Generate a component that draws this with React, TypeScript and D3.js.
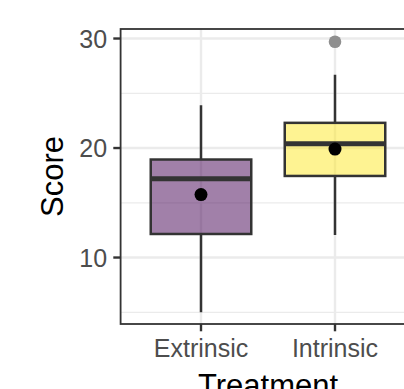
import React from "react";
import * as d3 from "d3";

const treatments = ["Extrinsic", "Intrinsic"];
const lowerWhisker = [5.0, 12.05];
const q1 = [12.15, 17.45];
const medians = [17.2, 20.4];
const q3 = [18.95, 22.3];
const upperWhisker = [23.9, 26.7];
const means = [15.75, 19.9];
const outliers = [[], [29.7]];
const fills = ["#440154", "#FDE725"];
const majorTicks = [10, 20, 30];
const minorTicks = [5, 15, 25];

const W = 404;
const H = 389;
const panel = { left: 120.6, right: 415.4, top: 29, bottom: 324 };

const App = () => {
  const x = d3.scalePoint<string>()
    .domain(treatments)
    .range([panel.left, panel.right])
    .padding(0.6);
  const boxW = x.step() * 0.75;

  const y = d3.scaleLinear()
    .domain([3.93, 30.87])
    .range([panel.bottom, panel.top]);

  const font = "'Liberation Sans', Arial, sans-serif";
  const ink = "#333333";

  return (
    <svg width={W} height={H} style={{ position: "absolute", left: 0, top: 0, background: "white" }}>
      <defs>
        <clipPath id="panel-clip">
          <rect x={panel.left} y={panel.top} width={panel.right - panel.left} height={panel.bottom - panel.top} />
        </clipPath>
      </defs>

      {/* grid */}
      <g clipPath="url(#panel-clip)">
        {minorTicks.map(t => (
          <line key={"mn" + t} x1={panel.left} x2={panel.right} y1={y(t)} y2={y(t)} stroke="#ebebeb" strokeWidth={1.2} />
        ))}
        {majorTicks.map(t => (
          <line key={"mj" + t} x1={panel.left} x2={panel.right} y1={y(t)} y2={y(t)} stroke="#ebebeb" strokeWidth={2.4} />
        ))}
        {treatments.map(t => (
          <line key={"vx" + t} x1={x(t)} x2={x(t)} y1={panel.top} y2={panel.bottom} stroke="#ebebeb" strokeWidth={2.4} />
        ))}

        {/* boxes */}
        {treatments.map((t, i) => {
          const cx = x(t)!;
          return (
            <g key={"box" + t}>
              <line x1={cx} x2={cx} y1={y(q3[i])} y2={y(upperWhisker[i])} stroke={ink} strokeWidth={2.5} />
              <line x1={cx} x2={cx} y1={y(q1[i])} y2={y(lowerWhisker[i])} stroke={ink} strokeWidth={2.5} />
              <rect
                x={cx - boxW / 2}
                y={y(q3[i])}
                width={boxW}
                height={y(q1[i]) - y(q3[i])}
                fill={fills[i]}
                fillOpacity={0.5}
                stroke={ink}
                strokeWidth={2.5}
              />
              <line x1={cx - boxW / 2} x2={cx + boxW / 2} y1={y(medians[i])} y2={y(medians[i])} stroke={ink} strokeWidth={5} />
              {outliers[i].map((o, j) => (
                <circle key={j} cx={cx} cy={y(o)} r={6.3} fill="#8f8f8f" />
              ))}
              <circle cx={cx} cy={y(means[i])} r={6.5} fill="black" />
            </g>
          );
        })}
      </g>

      {/* panel border */}
      <rect x={panel.left} y={panel.top} width={panel.right - panel.left} height={panel.bottom - panel.top} fill="none" stroke={ink} strokeWidth={1.8} />

      {/* y axis */}
      {majorTicks.map(t => (
        <g key={"yt" + t}>
          <line x1={panel.left - 7.3} x2={panel.left} y1={y(t)} y2={y(t)} stroke={ink} strokeWidth={2.4} />
          <text x={panel.left - 13.5} y={y(t)} dy="0.36em" textAnchor="end" fontFamily={font} fontSize={25} fill="#4d4d4d">{t}</text>
        </g>
      ))}

      {/* x axis */}
      {treatments.map(t => (
        <g key={"xt" + t}>
          <line x1={x(t)} x2={x(t)} y1={panel.bottom} y2={panel.bottom + 7.3} stroke={ink} strokeWidth={2.4} />
          <text x={x(t)} y={357} textAnchor="middle" fontFamily={font} fontSize={25} fill="#4d4d4d">{t}</text>
        </g>
      ))}

      <text x={(panel.left + panel.right) / 2} y={396} textAnchor="middle" fontFamily={font} fontSize={31} fill="black">Treatment</text>
      <text transform={`translate(63,${(panel.top + panel.bottom) / 2}) rotate(-90)`} textAnchor="middle" fontFamily={font} fontSize={31} fill="black">Score</text>
    </svg>
  );
};

export default App;
